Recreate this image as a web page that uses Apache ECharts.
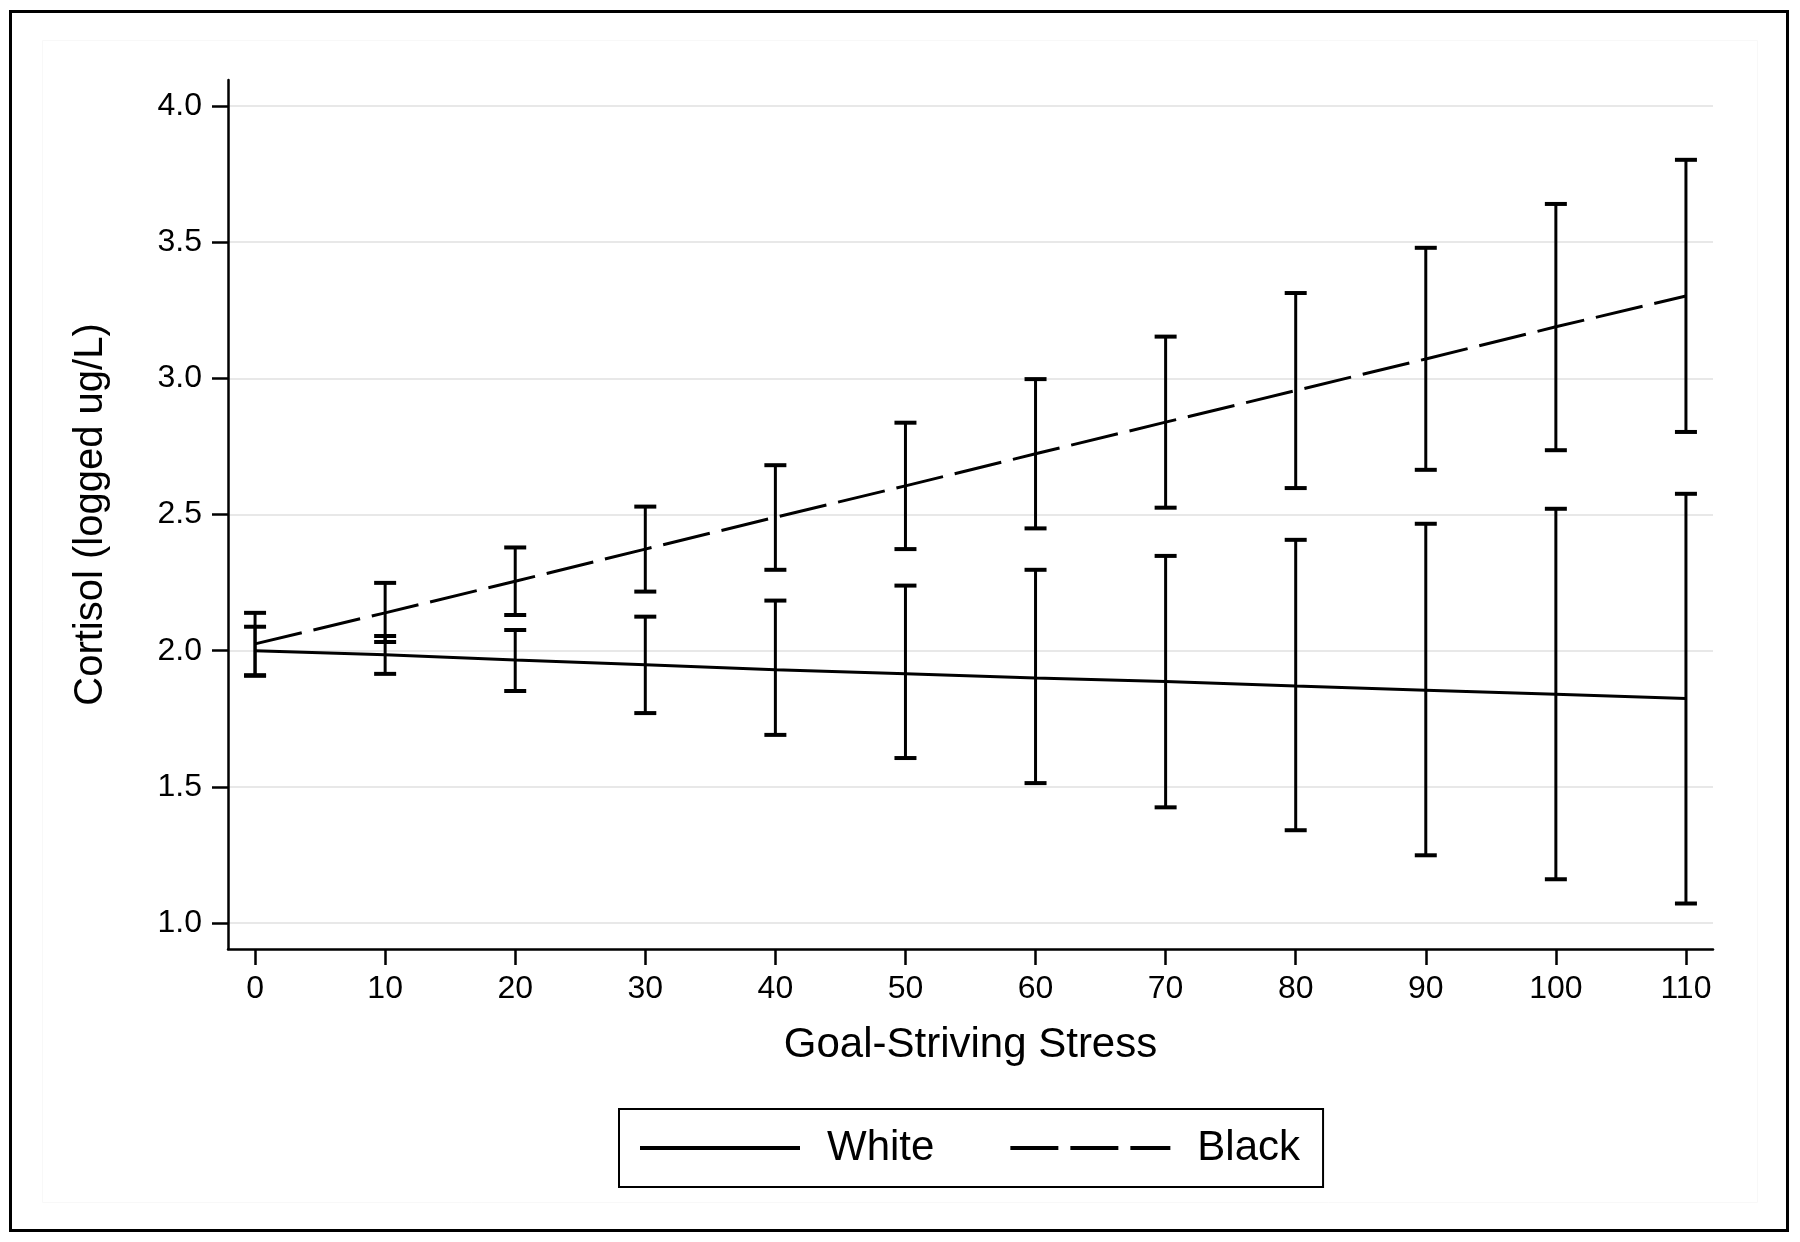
<!DOCTYPE html>
<html>
<head>
<meta charset="utf-8">
<script src="https://cdn.jsdelivr.net/npm/echarts@6/dist/echarts.min.js"></script>
<style>
  html, body { margin: 0; padding: 0; background: #fff; }
  #chart { width: 1800px; height: 1242px; }
</style>
</head>
<body>
<div id="chart"></div>
<script>
// ---- Data ----
const stressValues = [0, 10, 20, 30, 40, 50, 60, 70, 80, 90, 100, 110];
const whiteMean = [2.000, 1.985, 1.966, 1.948, 1.930, 1.915, 1.900, 1.887, 1.870, 1.855, 1.840, 1.825];
const whiteLow  = [1.910, 1.915, 1.852, 1.771, 1.691, 1.606, 1.514, 1.425, 1.341, 1.249, 1.161, 1.072];
const whiteHigh = [2.088, 2.054, 2.076, 2.125, 2.184, 2.239, 2.297, 2.348, 2.407, 2.466, 2.521, 2.576];
const blackMean = [2.025, 2.139, 2.255, 2.373, 2.490, 2.605, 2.723, 2.839, 2.955, 3.071, 3.189, 3.302];
const blackLow  = [1.908, 2.032, 2.131, 2.217, 2.297, 2.373, 2.449, 2.525, 2.597, 2.664, 2.736, 2.803];
const blackHigh = [2.139, 2.249, 2.379, 2.529, 2.681, 2.837, 2.997, 3.153, 3.313, 3.479, 3.640, 3.802];
const yTicks = [1.0, 1.5, 2.0, 2.5, 3.0, 3.5, 4.0];
const xTicks = [0, 10, 20, 30, 40, 50, 60, 70, 80, 90, 100, 110];
const seriesNames = ['White', 'Black'];

const FONT = 'Liberation Sans, Arial, Helvetica, sans-serif';

const pairs = (m) => stressValues.map((x, i) => [x, m[i]]);
const bars = (lo, hi) => stressValues.map((x, i) => [x, lo[i], hi[i]]);

function renderErrorBar(params, api) {
  const x = api.value(0), lo = api.value(1), hi = api.value(2);
  const pLo = api.coord([x, lo]);
  const pHi = api.coord([x, hi]);
  const hw = 11;
  const st = { stroke: '#000', lineWidth: 3 };
  const cap = { stroke: '#000', lineWidth: 4 };
  return {
    type: 'group',
    children: [
      { type: 'line', shape: { x1: pLo[0], y1: pLo[1], x2: pHi[0], y2: pHi[1] }, style: st },
      { type: 'line', shape: { x1: pLo[0] - hw, y1: pLo[1], x2: pLo[0] + hw, y2: pLo[1] }, style: cap },
      { type: 'line', shape: { x1: pHi[0] - hw, y1: pHi[1], x2: pHi[0] + hw, y2: pHi[1] }, style: cap }
    ]
  };
}

const chart = echarts.init(document.getElementById('chart'), null, { renderer: 'canvas' });
chart.setOption({
  backgroundColor: '#fff',
  animation: false,
  textStyle: { fontFamily: FONT },
  grid: { left: 228, right: 87, top: 80, bottom: 293, containLabel: false },
  graphic: [
    { type: 'rect', shape: { x: 10.5, y: 11.5, width: 1777, height: 1219 },
      style: { fill: 'none', stroke: '#000', lineWidth: 3 }, z: 100 },
    { type: 'rect', shape: { x: 42.5, y: 40.5, width: 1715, height: 1162 },
      style: { fill: 'none', stroke: '#f8f8f8', lineWidth: 1 }, z: -1 }
  ],
  xAxis: {
    type: 'value',
    min: -2.08, max: 112.08,
    name: 'Goal-Striving Stress',
    nameLocation: 'middle',
    nameGap: 75,
    nameTextStyle: { fontSize: 42, color: '#000', fontFamily: FONT },
    axisLine: { show: true, onZero: false, lineStyle: { color: '#000', width: 2.5 } },
    axisTick: { show: true, length: 16, customValues: xTicks, lineStyle: { color: '#000', width: 2.5 } },
    axisLabel: { customValues: xTicks, fontSize: 32, color: '#000', margin: 24, fontFamily: FONT,
      formatter: (v) => String(Math.round(v)) },
    splitLine: { show: false }
  },
  yAxis: {
    type: 'value',
    min: 0.905, max: 4.095,
    name: 'Cortisol (logged ug/L)',
    nameLocation: 'middle',
    nameGap: 117,
    nameRotate: 90,
    nameTextStyle: { fontSize: 40, color: '#000', fontFamily: FONT },
    axisLine: { show: true, onZero: false, lineStyle: { color: '#000', width: 2.5 } },
    axisTick: { show: true, length: 16, customValues: yTicks, lineStyle: { color: '#000', width: 2.5 } },
    axisLabel: { customValues: yTicks, fontSize: 32, color: '#000', margin: 26, fontFamily: FONT,
      formatter: (v) => v.toFixed(1) },
    splitLine: { show: true, lineStyle: { color: '#e8e8e8', width: 2 } }
  },
  legend: {
    data: seriesNames,
    left: 619, top: 1109,
    orient: 'horizontal',
    padding: [18, 23, 18, 19],
    borderColor: '#000', borderWidth: 2,
    itemWidth: 160, itemHeight: 20,
    itemGap: 74,
    itemStyle: { opacity: 0 },
    lineStyle: { width: 4 },
    textStyle: { fontSize: 42, color: '#000', fontFamily: FONT, padding: [0, 0, 0, 22] }
  },
  series: [
    {
      name: seriesNames[0], type: 'line', data: pairs(whiteMean),
      symbol: 'none', z: 3,
      lineStyle: { color: '#000', width: 3, type: 'solid' },
      itemStyle: { color: '#000' }
    },
    {
      name: seriesNames[1], type: 'line', data: pairs(blackMean),
      symbol: 'none', z: 3,
      lineStyle: { color: '#000', width: 3, type: [48, 12] },
      itemStyle: { color: '#000' }
    },
    {
      name: 'White CI', type: 'custom', renderItem: renderErrorBar,
      data: bars(whiteLow, whiteHigh), encode: { x: 0, y: [1, 2] }, z: 4, clip: false
    },
    {
      name: 'Black CI', type: 'custom', renderItem: renderErrorBar,
      data: bars(blackLow, blackHigh), encode: { x: 0, y: [1, 2] }, z: 4, clip: false
    }
  ]
});
</script>
</body>
</html>
